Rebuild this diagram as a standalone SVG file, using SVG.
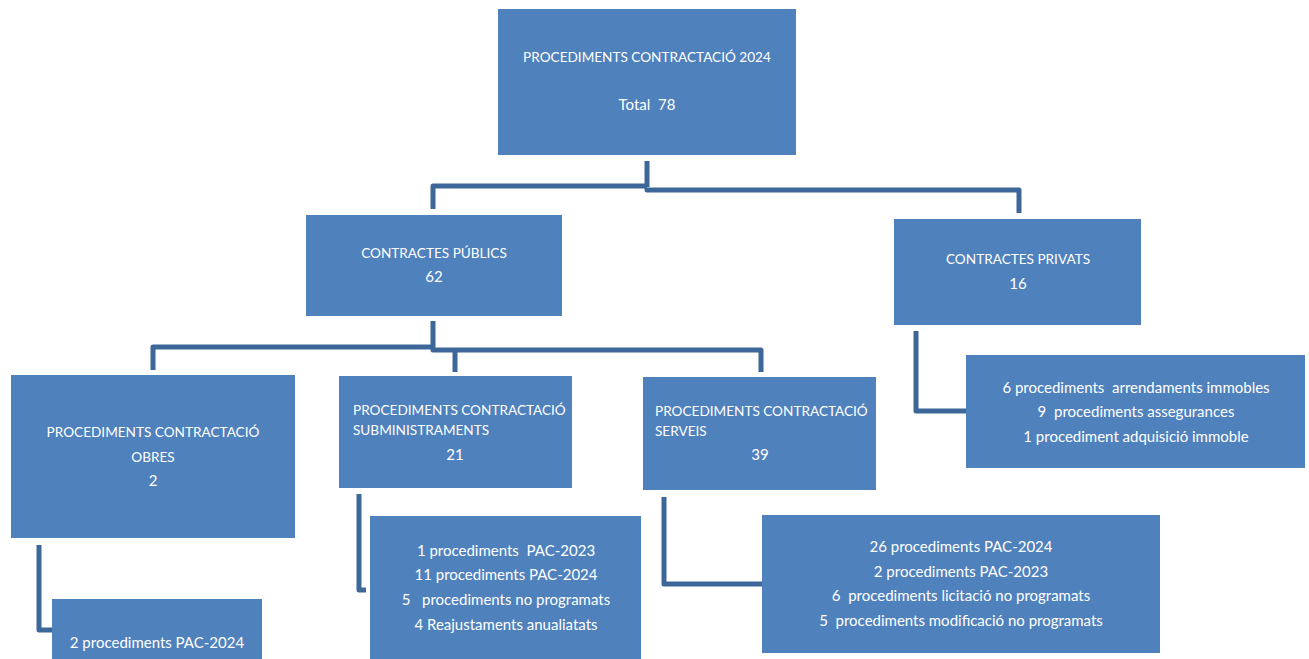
<svg xmlns="http://www.w3.org/2000/svg" width="1309" height="659" viewBox="0 0 1309 659">
<style>
.box{fill:#4F81BD;}
.t{font-family:Lato,"Liberation Sans",sans-serif;font-size:15px;fill:#FFFFFF;white-space:pre;}
.u{font-size:13.6px;}
.c{text-anchor:middle;}
.ln{fill:none;stroke:#3D6798;stroke-width:5;stroke-linejoin:round;stroke-linecap:butt;}
</style>
<rect width="1309" height="659" fill="#FFFFFF"/>
<g id="connectors">
<path class="ln" d="M647,161 V187"/>
<path class="ln" d="M647,186 H433 V209"/>
<path class="ln" d="M647,188 V190 H1019 V213"/>
<path class="ln" d="M433,321 V348"/>
<path class="ln" d="M433,347 H153 V370"/>
<path class="ln" d="M433,348 V350 H761 V372"/>
<path class="ln" d="M455,350 V372"/>
<path class="ln" d="M39,545 V630 H52"/>
<path class="ln" d="M359,494 V590 H366"/>
<path class="ln" d="M664,497 V584 H762"/>
<path class="ln" d="M916,331 V411 H966"/>
</g>
<g id="node-total">
<rect class="box" x="498" y="9" width="298" height="146"/>
<text class="t u c" x="647" y="62">PROCEDIMENTS CONTRACTACIÓ 2024</text>
<text class="t c" x="647" y="110">Total  78</text>
</g>
<g id="node-publics">
<rect class="box" x="306" y="215" width="256" height="101"/>
<text class="t u c" x="434" y="258">CONTRACTES PÚBLICS</text>
<text class="t c" x="434" y="282">62</text>
</g>
<g id="node-privats">
<rect class="box" x="894" y="219" width="247" height="106"/>
<text class="t u c" x="1018" y="264">CONTRACTES PRIVATS</text>
<text class="t c" x="1018" y="289">16</text>
</g>
<g id="node-obres">
<rect class="box" x="11" y="375" width="284" height="163"/>
<text class="t u c" x="153" y="437">PROCEDIMENTS CONTRACTACIÓ</text>
<text class="t u c" x="153" y="462">OBRES</text>
<text class="t c" x="153" y="486">2</text>
</g>
<g id="node-subministraments">
<rect class="box" x="339" y="376" width="233" height="112"/>
<text class="t u" x="353" y="415">PROCEDIMENTS CONTRACTACIÓ</text>
<text class="t u" x="353" y="435">SUBMINISTRAMENTS</text>
<text class="t c" x="455" y="460">21</text>
</g>
<g id="node-serveis">
<rect class="box" x="643" y="377" width="233" height="113"/>
<text class="t u" x="655" y="416">PROCEDIMENTS CONTRACTACIÓ</text>
<text class="t u" x="655" y="436">SERVEIS</text>
<text class="t c" x="760" y="460">39</text>
</g>
<g id="node-privats-detall">
<rect class="box" x="966" y="355" width="339" height="113"/>
<text class="t c" x="1136" y="393">6 procediments  arrendaments immobles</text>
<text class="t c" x="1136" y="417">9  procediments assegurances</text>
<text class="t c" x="1136" y="442">1 procediment adquisició immoble</text>
</g>
<g id="node-obres-detall">
<rect class="box" x="52" y="599" width="210" height="65"/>
<text class="t c" x="157" y="648">2 procediments PAC-2024</text>
</g>
<g id="node-subministraments-detall">
<rect class="box" x="370" y="516" width="271" height="148"/>
<text class="t c" x="506" y="556">1 procediments  PAC-2023</text>
<text class="t c" x="506" y="580">11 procediments PAC-2024</text>
<text class="t c" x="506" y="605">5   procediments no programats</text>
<text class="t c" x="506" y="630">4 Reajustaments anualiatats</text>
</g>
<g id="node-serveis-detall">
<rect class="box" x="762" y="515" width="398" height="138"/>
<text class="t c" x="961" y="552">26 procediments PAC-2024</text>
<text class="t c" x="961" y="577">2 procediments PAC-2023</text>
<text class="t c" x="961" y="601">6  procediments licitació no programats</text>
<text class="t c" x="961" y="626">5  procediments modificació no programats</text>
</g>
</svg>
